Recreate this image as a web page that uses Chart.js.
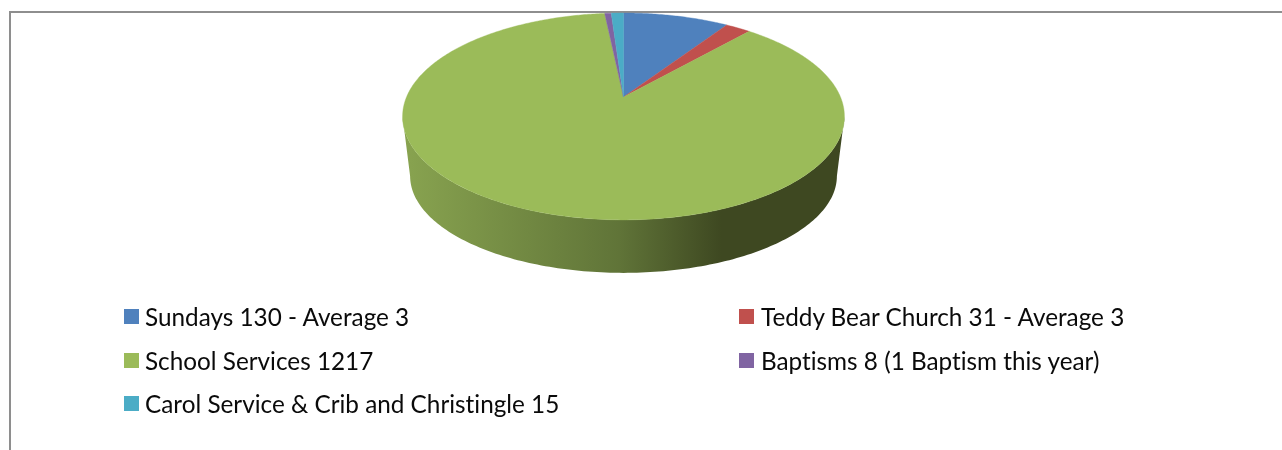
<!DOCTYPE html>
<html>
<head>
<meta charset="utf-8">
<title>Services</title>
<script src="https://cdn.jsdelivr.net/npm/chart.js@4"></script>
<style>
    html, body { margin: 0; padding: 0; background: #fff; overflow: hidden; }
    #wrap { position: relative; width: 1282px; height: 450px; }
    #frame { position: absolute; left: 9px; top: 11px; right: 0; bottom: -4px; border-top: 2px solid #8e8e8e; border-left: 2px solid #8e8e8e; }
    canvas { position: absolute; left: 0; top: 0; }
    .item { position: absolute; height: 30px; line-height: 30px; font-family: Lato, sans-serif; font-size: 24.3px; font-variant-ligatures: none; color: #0a0a0a; white-space: nowrap; }
    .item i { position: absolute; left: 0; top: 7px; width: 15px; height: 15px; }
    .item span { position: absolute; left: 21px; top: 0; }
    .item.right span { left: 22px; }
</style>
</head>
<body>
<div id="wrap">
    <div id="frame"></div>
    <canvas id="myChart" width="1282" height="450"></canvas>
    <div id="legend"></div>
</div>
<script>
const labels = [
    "Sundays 130 - Average 3",
    "Teddy Bear Church 31 - Average 3",
    "School Services 1217",
    "Baptisms 8 (1 Baptism this year)",
    "Carol Service & Crib and Christingle 15"
];
const values = [130, 31, 1217, 8, 15];
const colors = ["#4F81BD", "#C0504D", "#9BBB59", "#8064A2", "#4BACC6"];

// where each legend row sits, entries fill two columns
const legendColumns = [124, 739];
const legendRows = [302, 346, 389];

// perspective of the tilted disc
const persp = -0.188;
const scaleX = 2.583;
const scaleY = 1.188;
// the lower rim is the upper rim moved down and shrunk a little
const rimDrop = 59.5, rimOffY = 19.5, rimShrinkX = 0.966, rimShrinkY = 0.937;

function topPoint(arc, a) {
    const u = Math.cos(a), v = Math.sin(a);
    const w = 1 + persp * v;
    return {
        x: arc.x + scaleX * arc.outerRadius * u / w,
        y: arc.y + scaleY * arc.outerRadius * v / w
    };
}

function lowPoint(arc, a) {
    const p = topPoint(arc, a);
    const midY = arc.y + rimOffY;
    return {
        x: arc.x + (p.x - arc.x) * rimShrinkX,
        y: midY + rimDrop + (p.y - midY) * rimShrinkY
    };
}

const pie3d = {
    id: 'pie3d',
    beforeDatasetsDraw(chart) {
        const ctx = chart.ctx;
        const arcs = chart.getDatasetMeta(0).data;
        const front0 = Math.asin(-persp);
        const front1 = Math.PI - front0;

        // side wall, only the part facing us
        arcs.forEach(arc => {
            const a0 = Math.max(arc.startAngle, front0);
            const a1 = Math.min(arc.endAngle, front1);
            if (a1 <= a0) return;
            const grad = ctx.createLinearGradient(410, 0, 837, 0);
            grad.addColorStop(0, "#87A24F");
            grad.addColorStop(0.49, "#607438");
            grad.addColorStop(0.73, "#3E4821");
            grad.addColorStop(1, "#3E4821");
            ctx.beginPath();
            for (let i = 0; i <= 160; i++) {
                const p = topPoint(arc, a0 + (a1 - a0) * i / 160);
                ctx.lineTo(p.x, p.y);
            }
            for (let i = 160; i >= 0; i--) {
                const p = lowPoint(arc, a0 + (a1 - a0) * i / 160);
                ctx.lineTo(p.x, p.y);
            }
            ctx.closePath();
            ctx.fillStyle = grad;
            ctx.fill();
        });

        // top of the disc
        arcs.forEach((arc, i) => {
            const steps = Math.max(8, Math.ceil((arc.endAngle - arc.startAngle) * 90));
            ctx.beginPath();
            ctx.moveTo(arc.x, arc.y);
            for (let s = 0; s <= steps; s++) {
                const p = topPoint(arc, arc.startAngle + (arc.endAngle - arc.startAngle) * s / steps);
                ctx.lineTo(p.x, p.y);
            }
            ctx.closePath();
            ctx.fillStyle = colors[i];
            ctx.strokeStyle = colors[i];
            ctx.lineWidth = 0.4;
            ctx.fill();
            ctx.stroke();
        });
        return false;
    }
};

const myChart = new Chart(document.getElementById('myChart'), {
    type: 'pie',
    data: {
        labels: labels,
        datasets: [{
            data: values,
            backgroundColor: colors,
            borderWidth: 0
        }]
    },
    options: {
        responsive: false,
        animation: false,
        events: [],
        layout: { padding: { left: 402, right: 437, top: 13, bottom: 269 } },
        plugins: {
            legend: { display: false },
            tooltip: { enabled: false }
        }
    },
    plugins: [pie3d]
});

// legend
const legend = document.getElementById('legend');
labels.forEach((label, index) => {
    const column = index % 2;
    const div = document.createElement("div");
    div.className = column ? "item right" : "item";
    div.style.left = legendColumns[column] + "px";
    div.style.top = legendRows[Math.floor(index / 2)] + "px";
    div.innerHTML = `<i style="background:${colors[index]}"></i><span></span>`;
    div.querySelector("span").textContent = label;
    legend.appendChild(div);
});
</script>
</body>
</html>
